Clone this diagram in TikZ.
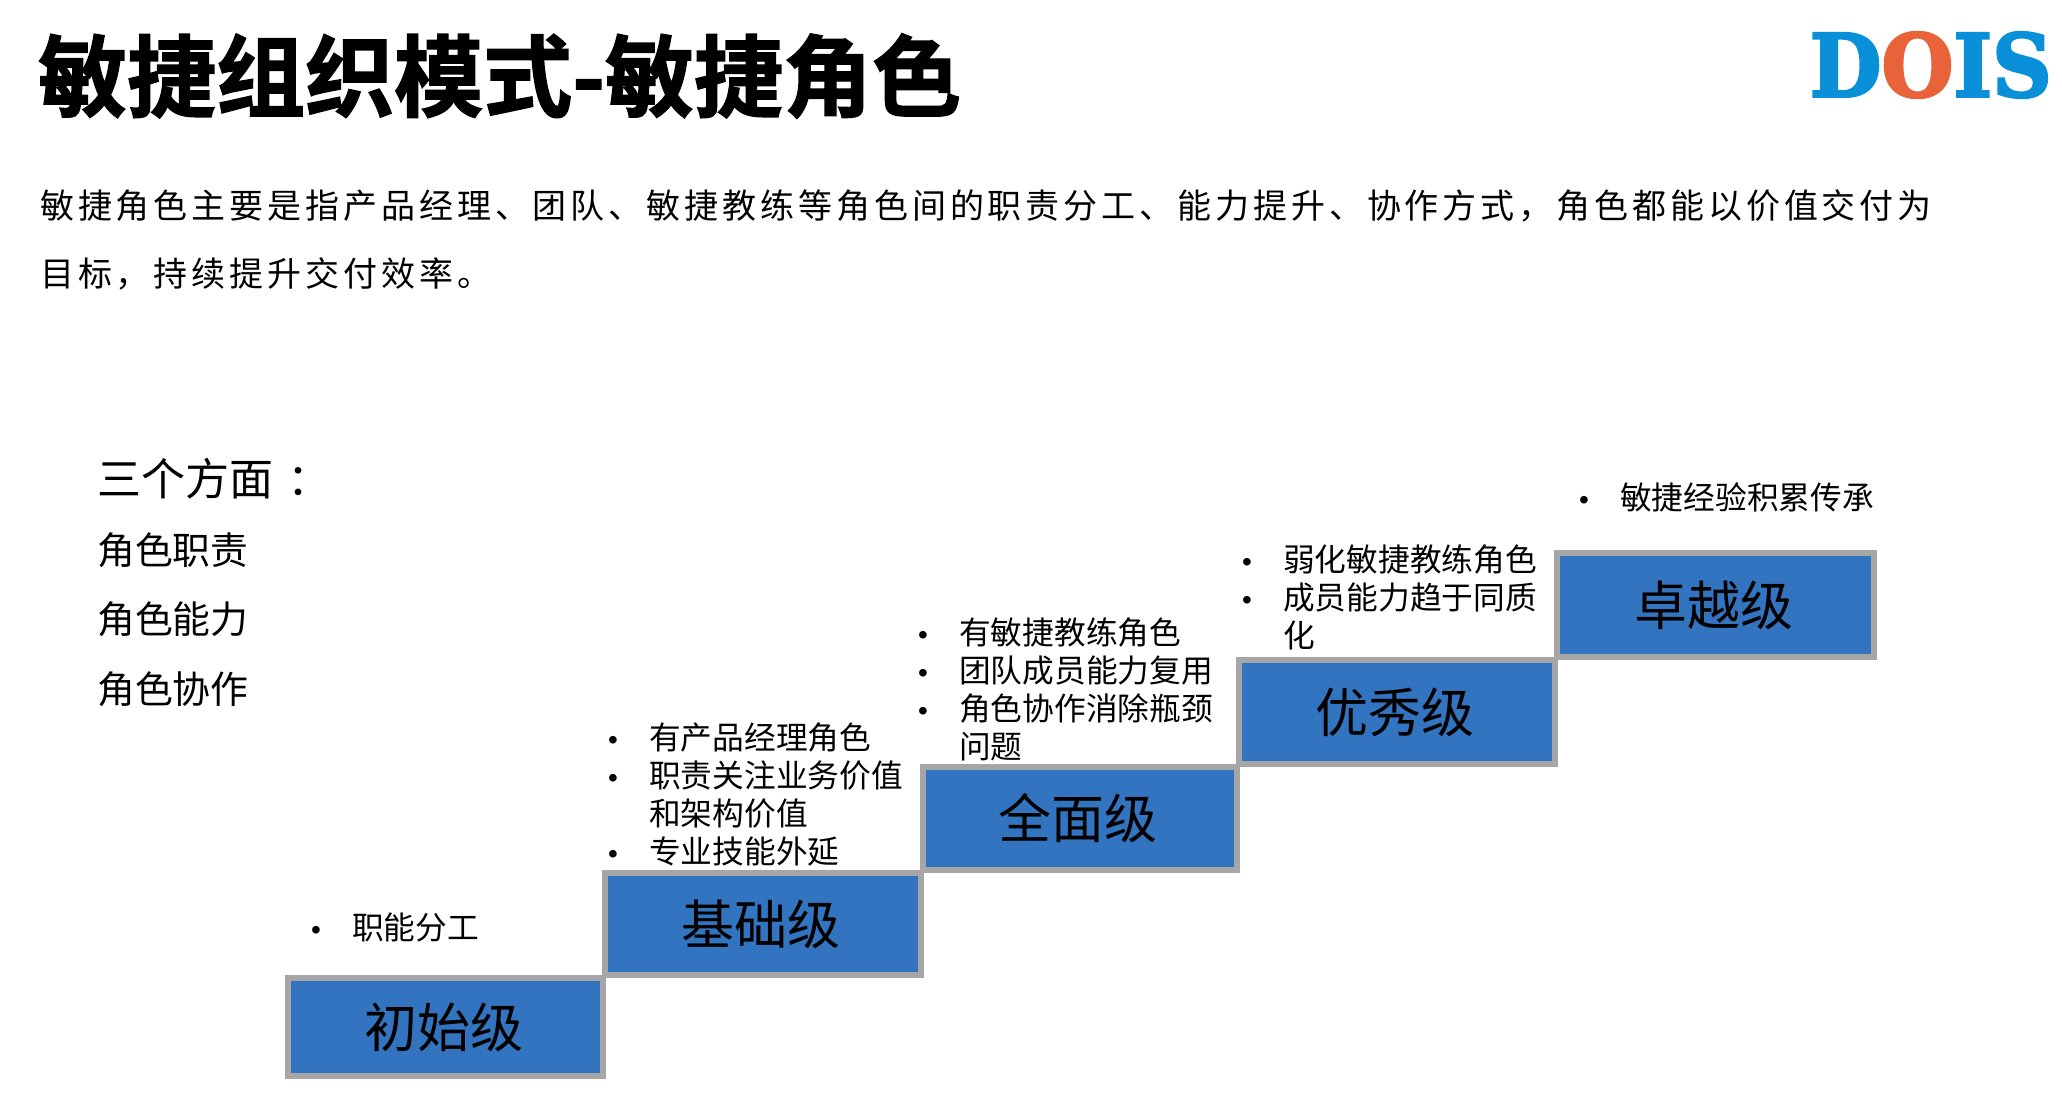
\documentclass[tikz,border=0pt]{standalone}
\usepackage{fontspec}
\usepackage{xcolor}
\setmainfont{Noto Sans CJK SC}
\newfontfamily\titlefont[FakeBold=1.6]{Noto Sans CJK SC Bold}
\newfontfamily\bodyfont[LetterSpace=11.5]{Noto Sans CJK SC}
\newfontfamily\logofont[FakeBold=3]{DejaVu Serif Bold}
\newfontfamily\dotfont{Liberation Sans}
\definecolor{stepblue}{HTML}{3274C0}
\definecolor{stepgrey}{HTML}{A6A6A6}
\definecolor{logoblue}{HTML}{0A90D8}
\definecolor{logored}{HTML}{E8623A}
\newcommand{\lineitem}[1]{\makebox[39pt][l]{\hspace{-2pt}\dotfont\fontsize{28}{38}\selectfont •}#1}
\newcommand{\lineskipitem}[1]{\hspace*{39pt}#1}
\tikzset{
  stepbox/.style={rectangle, draw=stepgrey, fill=stepblue, line width=6pt, inner sep=0pt, font=\fontsize{53}{60}\selectfont},
  itemlist/.style={anchor=west, inner sep=0pt, align=left, font=\fontsize{31.7}{38}\selectfont},
  aspect/.style={anchor=west, inner sep=0pt, font=\fontsize{37.8}{44}\selectfont}
}
\begin{document}
\begin{tikzpicture}[x=1pt,y=-1pt]
\useasboundingbox (0,0) rectangle (2062,1096);

% heading and intro
\node[anchor=west, inner sep=0pt, font=\fontsize{89}{96}\titlefont] (heading) at (38,76) {敏捷组织模式-敏捷角色};
\node[anchor=west, inner sep=0pt, align=left, font=\fontsize{34}{68}\bodyfont] (intro) at (40,240) {
敏捷角色主要是指产品经理、团队、敏捷教练等角色间的职责分工、能力提升、协作方式，角色都能以价值交付为\\
目标，持续提升交付效率。
};

% logo
\node[anchor=east, inner sep=0pt, xscale=0.95, font=\fontsize{87}{96}\logofont, text=logoblue] (logo) at (2052,65) {D{\color{logored}O}IS};

% the three aspects
\node[aspect, font=\fontsize{44}{50}\selectfont] (aspects) at (97,479) {三个方面\hspace{14pt}：};
\node[aspect] (duty) at (97,550) {角色职责};
\node[aspect] (ability) at (97,619) {角色能力};
\node[aspect] (teamwork) at (97,689) {角色协作};

% staircase
\node[stepbox, minimum width=315pt, minimum height=98pt] (chushi) at (445.5,1027) {\raisebox{-1pt}{\hspace{-4pt}初始级}};
\node[stepbox, minimum width=316pt, minimum height=102pt] (jichu) at (762.5,924) {\raisebox{-2pt}{\hspace{-3pt}基础级}};
\node[stepbox, minimum width=314pt, minimum height=103pt] (quanmian) at (1079.5,818) {\hspace{-3pt}全面级};
\node[stepbox, minimum width=316pt, minimum height=104pt] (youxiu) at (1396.5,712) {\hspace{-4pt}优秀级};
\node[stepbox, minimum width=317pt, minimum height=104pt] (zhuoyue) at (1715.5,605) {\hspace{-4pt}卓越级};

% what each step means
\node[itemlist] (chushilist) at (313,927) {\lineitem{职能分工}};
\node[itemlist] (jichulist) at (610,795) {
\lineitem{有产品经理角色}\\
\lineitem{职责关注业务价值}\\
\lineskipitem{和架构价值}\\
\lineitem{专业技能外延}
};
\node[itemlist] (quanmianlist) at (920,689) {
\lineitem{有敏捷教练角色}\\
\lineitem{团队成员能力复用}\\
\lineitem{角色协作消除瓶颈}\\
\lineskipitem{问题}
};
\node[itemlist] (youxiulist) at (1244,597) {
\lineitem{弱化敏捷教练角色}\\
\lineitem{成员能力趋于同质}\\
\lineskipitem{化}
};
\node[itemlist] (zhuoyuelist) at (1581,497) {\lineitem{敏捷经验积累传承}};
\end{tikzpicture}
\end{document}
